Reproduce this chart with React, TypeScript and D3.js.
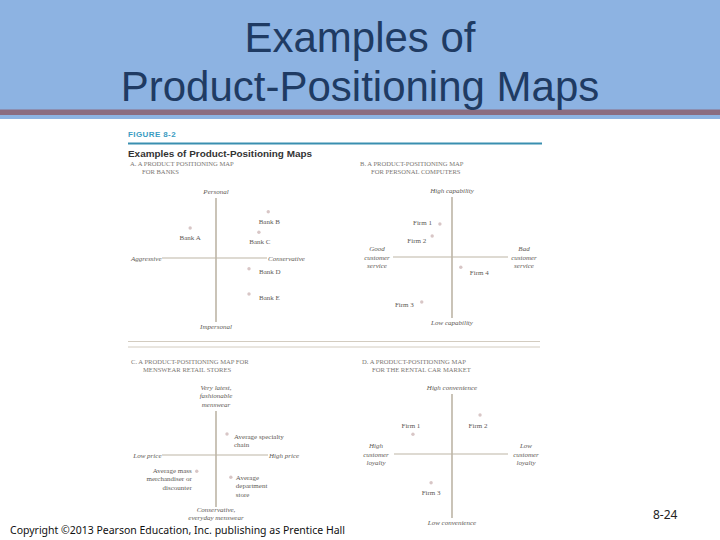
import * as d3 from 'd3';

// slide text
const titleLines = ['Examples of', 'Product-Positioning Maps'];
const figureTag = 'FIGURE 8-2';
const figureTitle = 'Examples of Product-Positioning Maps';
const copyright = 'Copyright \u00a92013 Pearson Education, Inc. publishing as Prentice Hall';
const slideNumber = '8-24';

// panel A: banks
const bankTitle = ['A. A PRODUCT POSITIONING MAP', 'FOR BANKS'];
const bankAxes = { top: ['Personal'], bottom: ['Impersonal'], left: ['Aggressive'], right: ['Conservative'] };
const bankNames = [['Bank A'], ['Bank B'], ['Bank C'], ['Bank D'], ['Bank E']];
const bankX = [-4.7, 9.5, 7.8, 6.0, 6.0];
const bankY = [5.0, 7.7, 4.3, -1.8, -6.0];

// panel B: personal computers
const pcTitle = ['B. A PRODUCT-POSITIONING MAP', 'FOR PERSONAL COMPUTERS'];
const pcAxes = {
  top: ['High capability'],
  bottom: ['Low capability'],
  left: ['Good', 'customer', 'service'],
  right: ['Bad', 'customer', 'service'],
};
const pcNames = [['Firm 1'], ['Firm 2'], ['Firm 3'], ['Firm 4']];
const pcX = [-2.2, -3.6, -5.5, 1.6];
const pcY = [5.5, 3.5, -7.5, -1.7];

// panel C: menswear retail stores
const storeTitle = ['C. A PRODUCT-POSITIONING MAP FOR', 'MENSWEAR RETAIL STORES'];
const storeAxes = {
  top: ['Very latest,', 'fashionable', 'menswear'],
  bottom: ['Conservative,', 'everyday menswear'],
  left: ['Low price'],
  right: ['High price'],
};
const storeNames = [
  ['Average specialty', 'chain'],
  ['Average mass', 'merchandiser or', 'discounter'],
  ['Average', 'department', 'store'],
];
const storeX = [2.0, -3.5, 2.7];
const storeY = [3.5, -2.7, -3.7];

// panel D: rental cars
const carTitle = ['D. A PRODUCT-POSITIONING MAP', 'FOR THE RENTAL CAR MARKET'];
const carAxes = {
  top: ['High convenience'],
  bottom: ['Low convenience'],
  left: ['High', 'customer', 'loyalty'],
  right: ['Low', 'customer', 'loyalty'],
};
const carNames = [['Firm 1'], ['Firm 2'], ['Firm 3']];
const carX = [-7.1, 5.1, -3.8];
const carY = [3.3, 6.5, -4.8];

type Anchor = 'start' | 'middle' | 'end';
interface Place { anchor: Anchor; dx: number; dy: number }

interface PanelLayout {
  cx: number;
  cy: number;
  left: number;
  right: number;
  up: number;
  down: number;
  bottomGap: number;
  bottomLH: number;
  titleX: number;
  titleY: number;
  titleIndent: number;
  sideOffset: number; // for multi-line side labels
  places: Place[];
}

const LH = 8.6;
const serif = '"Liberation Serif", "DejaVu Serif", serif';
const sans = '"Liberation Sans", Arial, sans-serif';

function Lines({ x, y, lines, anchor, italic, size = 7, fill = '#5e5a55', lh = LH }: {
  x: number; y: number; lines: string[]; anchor: Anchor; italic?: boolean; size?: number; fill?: string; lh?: number;
}) {
  return (
    <text x={x} y={y} textAnchor={anchor} fontFamily={serif} fontSize={size}
      fontStyle={italic ? 'italic' : 'normal'} fill={fill}>
      {lines.map((l, i) => (
        <tspan key={i} x={x} dy={i === 0 ? 0 : lh}>{l}</tspan>
      ))}
    </text>
  );
}

function Panel({ layout, title, axes, names, xs, ys }: {
  layout: PanelLayout;
  title: string[];
  axes: { top: string[]; bottom: string[]; left: string[]; right: string[] };
  names: string[][];
  xs: number[];
  ys: number[];
}) {
  const { cx, cy, left, right, up, down } = layout;
  const x = d3.scaleLinear().domain([-10, 10]).range([cx - 55, cx + 55]);
  const y = d3.scaleLinear().domain([-10, 10]).range([cy + 60, cy - 60]);
  const axisColor = '#bdb5a6';
  const sideMulti = axes.left.length > 1;
  return (
    <g>
      <text x={layout.titleX} y={layout.titleY} fontFamily={serif} fontSize={6.6} fill="#7a7672">
        <tspan x={layout.titleX}>{title[0]}</tspan>
        <tspan x={layout.titleX + layout.titleIndent} dy={8}>{title[1]}</tspan>
      </text>
      <line x1={cx - left} x2={cx + right} y1={cy} y2={cy} stroke={axisColor} strokeWidth={1.2} />
      <line x1={cx} x2={cx} y1={cy - up} y2={cy + down} stroke={axisColor} strokeWidth={1.6} />
      <Lines x={cx} y={cy - up - 4 - (axes.top.length - 1) * LH} lines={axes.top} anchor="middle" italic />
      <Lines x={cx} y={cy + down + layout.bottomGap} lines={axes.bottom} anchor="middle" italic lh={layout.bottomLH} />
      {sideMulti ? (
        <>
          <Lines x={cx - left - layout.sideOffset} y={cy - LH + 2.5} lines={axes.left} anchor="middle" italic />
          <Lines x={cx + right + layout.sideOffset} y={cy - LH + 2.5} lines={axes.right} anchor="middle" italic />
        </>
      ) : (
        <>
          <Lines x={cx - left - 0.5} y={cy + 2.5} lines={axes.left} anchor="end" italic />
          <Lines x={cx + right + 1} y={cy + 2.5} lines={axes.right} anchor="start" italic />
        </>
      )}
      {names.map((n, i) => {
        const px = x(xs[i]);
        const py = y(ys[i]);
        const p = layout.places[i];
        return (
          <g key={i}>
            <circle cx={px} cy={py} r={1.7} fill="#d8c6c6" />
            <Lines x={px + p.dx} y={py + p.dy + 2.5} lines={n} anchor={p.anchor} />
          </g>
        );
      })}
    </g>
  );
}

const layoutA: PanelLayout = {
  cx: 216, cy: 258, left: 54, right: 51, up: 60, down: 64, bottomGap: 7, bottomLH: LH,
  titleX: 130, titleY: 166, titleIndent: 12, sideOffset: 0,
  places: [
    { anchor: 'middle', dx: 0, dy: 9 },
    { anchor: 'middle', dx: 1, dy: 10 },
    { anchor: 'middle', dx: 1, dy: 9 },
    { anchor: 'start', dx: 10, dy: 3 },
    { anchor: 'start', dx: 10, dy: 3 },
  ],
};

const layoutB: PanelLayout = {
  cx: 452, cy: 257, left: 59, right: 56, up: 60, down: 61, bottomGap: 7, bottomLH: LH,
  titleX: 360, titleY: 166, titleIndent: 11, sideOffset: 16,
  places: [
    { anchor: 'end', dx: -8, dy: -2 },
    { anchor: 'end', dx: -6, dy: 4 },
    { anchor: 'end', dx: -8, dy: 2 },
    { anchor: 'start', dx: 9, dy: 5 },
  ],
};

const layoutC: PanelLayout = {
  cx: 216, cy: 455, left: 54, right: 52, up: 44, down: 52, bottomGap: 5, bottomLH: 7.8,
  titleX: 131, titleY: 364, titleIndent: 12, sideOffset: 0,
  places: [
    { anchor: 'start', dx: 7, dy: 2 },
    { anchor: 'end', dx: -5, dy: -1 },
    { anchor: 'start', dx: 5, dy: 0 },
  ],
};

const layoutD: PanelLayout = {
  cx: 452, cy: 454, left: 58, right: 56, up: 60, down: 64, bottomGap: 7, bottomLH: LH,
  titleX: 362, titleY: 364, titleIndent: 10, sideOffset: 18,
  places: [
    { anchor: 'middle', dx: -2, dy: -9 },
    { anchor: 'middle', dx: -2, dy: 10 },
    { anchor: 'middle', dx: 0, dy: 10 },
  ],
};

export default function App() {
  const W = 720;
  const H = 540;
  return (
    <svg width={W} height={H} style={{ position: 'absolute', left: 0, top: 0, background: '#fff' }}>
      {/* header band */}
      <rect x={0} y={0} width={W} height={119} fill="#8db3e2" />
      <rect x={0} y={109.5} width={W} height={5.5} fill="#8b6c80" />
      {titleLines.map((t, i) => (
        <text key={i} x={W / 2} y={52 + i * 49} textAnchor="middle" fontFamily={sans}
          fontSize={42} fill="#1f3b63">{t}</text>
      ))}

      {/* figure header */}
      <text x={128} y={137} fontFamily={sans} fontWeight="bold" fontSize={8} fill="#3a9cc2"
        letterSpacing={0.4}>{figureTag}</text>
      <line x1={128} x2={542} y1={143.5} y2={143.5} stroke="#3a8fb0" strokeWidth={1.8} />
      <text x={128} y={157} fontFamily={sans} fontWeight="bold" fontSize={9.5} fill="#333"
        textLength={184} lengthAdjust="spacingAndGlyphs">{figureTitle}</text>

      <Panel layout={layoutA} title={bankTitle} axes={bankAxes} names={bankNames} xs={bankX} ys={bankY} />
      <Panel layout={layoutB} title={pcTitle} axes={pcAxes} names={pcNames} xs={pcX} ys={pcY} />

      <line x1={128} x2={540} y1={341.5} y2={341.5} stroke="#d3ccc0" strokeWidth={1} />
      <line x1={128} x2={540} y1={347} y2={347} stroke="#d3ccc0" strokeWidth={1} />

      <Panel layout={layoutC} title={storeTitle} axes={storeAxes} names={storeNames} xs={storeX} ys={storeY} />
      <Panel layout={layoutD} title={carTitle} axes={carAxes} names={carNames} xs={carX} ys={carY} />

      <text x={10} y={534} fontFamily='"Noto Sans", sans-serif' fontSize={11} fill="#111"
        textLength={335} lengthAdjust="spacingAndGlyphs">{copyright}</text>
      <text x={653} y={519} fontFamily='"Noto Sans", sans-serif' fontSize={12} fill="#222">{slideNumber}</text>
    </svg>
  );
}
